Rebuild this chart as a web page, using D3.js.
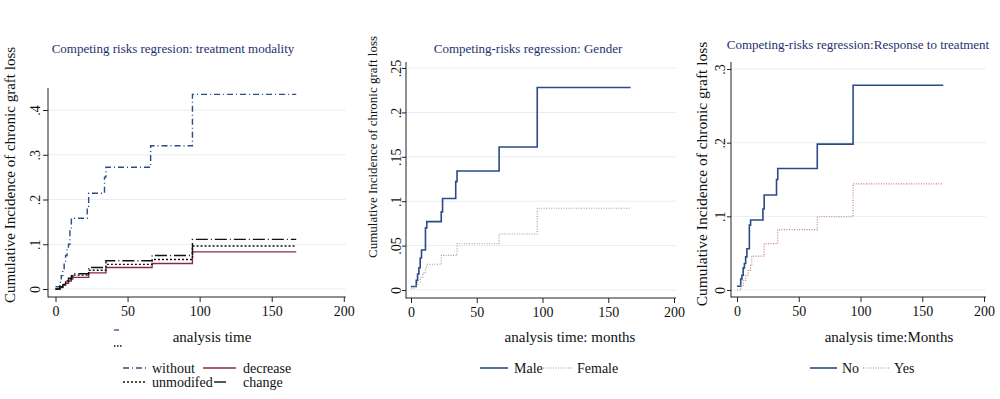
<!DOCTYPE html>
<html>
<head>
<meta charset="utf-8">
<script src="https://cdn.jsdelivr.net/npm/d3@7"></script>
<style>
  body { margin: 0; background: #fff; }
  svg text { font-family: 'Liberation Serif', 'DejaVu Serif', serif; }
</style>
</head>
<body>
<div id="chart"></div>
<script>
// Panel 1: treatment modality (months, cumulative incidence)
const withoutT = [0, 3, 4, 5, 6, 7, 8, 9, 10, 11, 22, 23, 34, 35, 66, 95, 167];
const withoutV = [0.005, 0.015, 0.03, 0.045, 0.06, 0.075, 0.09, 0.1, 0.13, 0.158, 0.185, 0.214, 0.25, 0.272, 0.32, 0.435, 0.435];
const decreaseT = [0, 3, 5, 7, 9, 11, 12, 23, 35, 67, 95, 167];
const decreaseV = [0, 0.003, 0.008, 0.013, 0.018, 0.022, 0.026, 0.036, 0.048, 0.057, 0.083, 0.083];
const unmodT = [0, 3, 5, 7, 9, 11, 12, 23, 35, 67, 95, 167];
const unmodV = [0, 0.004, 0.01, 0.016, 0.022, 0.027, 0.031, 0.042, 0.055, 0.066, 0.096, 0.096];
const changeT = [0, 3, 5, 7, 9, 11, 12, 23, 35, 67, 95, 167];
const changeV = [0, 0.005, 0.011, 0.018, 0.024, 0.03, 0.034, 0.048, 0.063, 0.075, 0.111, 0.111];

// Panel 2: gender
const maleT = [0, 4, 5, 6, 7, 8, 11, 12, 23, 24, 34, 35, 67, 96, 167];
const maleV = [0.004, 0.011, 0.018, 0.025, 0.036, 0.045, 0.07, 0.077, 0.088, 0.103, 0.122, 0.134, 0.161, 0.228, 0.228];
const femaleT = [0, 3, 5, 7, 9, 11, 12, 23, 35, 67, 96, 167];
const femaleV = [0.002, 0.005, 0.009, 0.014, 0.019, 0.025, 0.029, 0.039, 0.052, 0.063, 0.092, 0.092];

// Panel 3: response to treatment
const noT = [0, 3, 4, 5, 6, 7, 8, 10, 11, 21, 22, 32, 33, 65, 94, 167];
const noV = [0.005, 0.015, 0.02, 0.03, 0.036, 0.045, 0.056, 0.088, 0.095, 0.11, 0.129, 0.15, 0.165, 0.198, 0.278, 0.278];
const yesT = [0, 3, 5, 7, 9, 11, 12, 22, 33, 65, 94, 167];
const yesV = [0, 0.006, 0.013, 0.02, 0.027, 0.035, 0.046, 0.063, 0.082, 0.0995, 0.144, 0.144];

// tick labels
const xTicks = [0, 50, 100, 150, 200];
const yTicks1 = [0, 0.1, 0.2, 0.3, 0.4];
const yTicks2 = [0, 0.05, 0.1, 0.15, 0.2, 0.25];
const yTicks3 = [0, 0.1, 0.2, 0.3];

const yTitle = 'Cumulative Incidence of chronic graft loss';
const titleColor = '#1e3170';
const navy = '#2a4b88';
const maroon = '#8c2b3d';

const pairs = (ts, vs) => ts.map((t, i) => ({ t: t, v: vs[i] }));

const panels = [
  {
    title: 'Competing risks regresion: treatment modality', titleX: 173, titleY: 53,
    xTitle: 'analysis time', xTitleX: 212,
    yMax: 0.4, yTicks: yTicks1,
    xRange: [55.5, 343.8], yRange: [289, 110], axisX: 48, axisY: 297, axisTop: 88,
    tick: 5, labelOff: 8, yTitleX: 15, yTitleY: 175, yTitleSize: 15,
    series: [
      { name: 'without', data: pairs(withoutT, withoutV), color: navy, dash: '6,3,1,3', width: 1.4 },
      { name: 'decrease', data: pairs(decreaseT, decreaseV), color: maroon, dash: null, width: 1.4 },
      { name: 'unmodifed', data: pairs(unmodT, unmodV), color: '#111', dash: '2,2', width: 1.4 },
      { name: 'change', data: pairs(changeT, changeV), color: '#111', dash: '12,3,1,3', width: 1.4 }
    ],
    legend: [
      { i: 0, x1: 123, x2: 148, tx: 152, y: 368 },
      { i: 1, x1: 203, x2: 236, tx: 243, y: 368 },
      { i: 2, x1: 123, x2: 147, tx: 152, y: 382 },
      { i: 3, x1: 214, x2: 226, tx: 243, y: 382 }
    ]
  },
  {
    title: 'Competing-risks regression: Gender', titleX: 528, titleY: 53,
    xTitle: 'analysis time: months', xTitleX: 570,
    yMax: 0.25, yTicks: yTicks2,
    xRange: [411, 674], yRange: [290, 68], axisX: 406, axisY: 298, axisTop: 62,
    tick: 4, labelOff: 5, yTitleX: 377, yTitleY: 147, yTitleSize: 13,
    series: [
      { name: 'Male', data: pairs(maleT, maleV), color: navy, dash: null, width: 1.6 },
      { name: 'Female', data: pairs(femaleT, femaleV), color: '#9a9a9a', dash: '1,1.5', width: 1.1 }
    ],
    legend: [
      { i: 0, x1: 480, x2: 508, tx: 514, y: 368 },
      { i: 1, x1: 543, x2: 572, tx: 577, y: 368 }
    ]
  },
  {
    title: 'Competing-risks regression:Response to treatment', titleX: 858, titleY: 49,
    xTitle: 'analysis time:Months', xTitleX: 889,
    yMax: 0.3, yTicks: yTicks3,
    xRange: [737, 984], yRange: [290, 69], axisX: 731, axisY: 297, axisTop: 62,
    tick: 4, labelOff: 6, yTitleX: 707, yTitleY: 174, yTitleSize: 15.5,
    series: [
      { name: 'No', data: pairs(noT, noV), color: navy, dash: null, width: 1.6 },
      { name: 'Yes', data: pairs(yesT, yesV), color: '#c07886', dash: '1,1.5', width: 1.1 }
    ],
    legend: [
      { i: 0, x1: 810, x2: 837, tx: 842, y: 368 },
      { i: 1, x1: 863, x2: 890, tx: 894, y: 368 }
    ]
  }
];

const fmt = d => d === 0 ? '0' : d3.format('~g')(d).replace(/^0/, '');

const svg = d3.select('#chart').append('svg')
  .attr('width', 1000).attr('height', 399);

function drawPanel(p) {
  const g = svg.append('g');
  const x = d3.scaleLinear().domain([0, 200]).range(p.xRange);
  const y = d3.scaleLinear().domain([0, p.yMax]).range(p.yRange);
  const right = x(200) + 2;

  // gridlines
  g.selectAll('line.grid').data(p.yTicks).join('line')
    .attr('class', 'grid')
    .attr('x1', p.axisX).attr('x2', right)
    .attr('y1', d => y(d)).attr('y2', d => y(d))
    .attr('stroke', '#e4eff1').attr('stroke-width', 1);

  // y axis
  const ya = g.append('g')
    .attr('transform', `translate(${p.axisX},0)`)
    .call(d3.axisLeft(y).tickValues(p.yTicks).tickFormat(fmt).tickSize(p.tick).tickSizeOuter(0));
  ya.select('.domain').remove();
  ya.selectAll('.tick line').attr('stroke', '#222');
  ya.selectAll('.tick text')
    .attr('transform', 'rotate(-90)')
    .attr('x', 0).attr('y', -p.labelOff).attr('dy', 0)
    .attr('text-anchor', 'middle')
    .attr('font-size', 14).attr('fill', '#111')
    .style('font-family', "'Liberation Serif', serif");

  // x axis
  const xa = g.append('g')
    .attr('transform', `translate(0,${p.axisY})`)
    .call(d3.axisBottom(x).tickValues(xTicks).tickFormat(d3.format('d')).tickSize(5).tickSizeOuter(0));
  xa.select('.domain').remove();
  xa.selectAll('.tick line').attr('stroke', '#222');
  xa.selectAll('.tick text')
    .attr('y', 9).attr('font-size', 14).attr('fill', '#111')
    .style('font-family', "'Liberation Serif', serif");

  // axis lines
  g.append('line').attr('x1', p.axisX).attr('x2', p.axisX)
    .attr('y1', p.axisTop).attr('y2', p.axisY + 0.5)
    .attr('stroke', '#222');
  g.append('line').attr('x1', p.axisX).attr('x2', right)
    .attr('y1', p.axisY).attr('y2', p.axisY)
    .attr('stroke', '#222');

  // step lines
  const line = d3.line().x(d => x(d.t)).y(d => y(d.v)).curve(d3.curveStepAfter);
  p.series.forEach(s => {
    g.append('path').datum(s.data)
      .attr('d', line)
      .attr('fill', 'none')
      .attr('stroke', s.color)
      .attr('stroke-width', s.width)
      .attr('stroke-dasharray', s.dash);
  });

  // titles
  g.append('text').attr('x', p.titleX).attr('y', p.titleY)
    .attr('text-anchor', 'middle').attr('font-size', 13)
    .attr('fill', titleColor).text(p.title);
  g.append('text').attr('x', p.xTitleX).attr('y', 342)
    .attr('text-anchor', 'middle').attr('font-size', 15)
    .attr('fill', '#111').text(p.xTitle);
  g.append('text')
    .attr('transform', `translate(${p.yTitleX},${p.yTitleY}) rotate(-90)`)
    .attr('text-anchor', 'middle').attr('font-size', p.yTitleSize)
    .attr('fill', '#111').text(yTitle);

  // legend
  p.legend.forEach(l => {
    const s = p.series[l.i];
    g.append('line').attr('x1', l.x1).attr('x2', l.x2)
      .attr('y1', l.y).attr('y2', l.y)
      .attr('stroke', s.color).attr('stroke-width', s.width)
      .attr('stroke-dasharray', s.dash);
    g.append('text').attr('x', l.tx).attr('y', l.y + 4.5)
      .attr('font-size', 14).attr('fill', '#111').text(s.name);
  });
}

panels.forEach(drawPanel);

// stray legend keys left of the first x title
svg.append('line').attr('x1', 114).attr('x2', 119).attr('y1', 330).attr('y2', 330)
  .attr('stroke', navy).attr('stroke-width', 1.3);
svg.append('line').attr('x1', 114).attr('x2', 122).attr('y1', 346).attr('y2', 346)
  .attr('stroke', '#111').attr('stroke-width', 1.3).attr('stroke-dasharray', '1.5,1.5');
</script>
</body>
</html>
